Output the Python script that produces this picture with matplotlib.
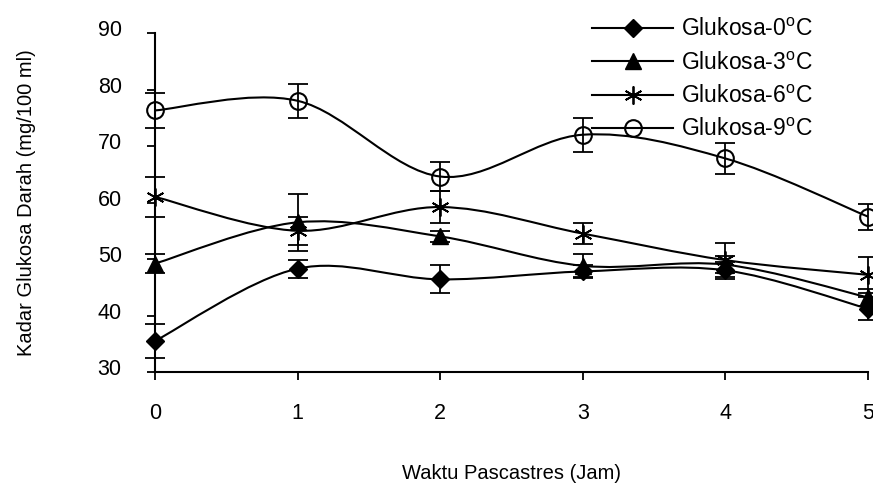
import numpy as np
import matplotlib
matplotlib.use("Agg")
import matplotlib.pyplot as plt
from matplotlib.path import Path
from matplotlib.patches import PathPatch
from matplotlib.lines import Line2D
from matplotlib.transforms import ScaledTranslation

plt.rcParams['font.family'] = ['Liberation Sans', 'DejaVu Sans']
plt.rcParams['mathtext.fontset'] = 'custom'
plt.rcParams['mathtext.rm'] = 'Liberation Sans'

# jam pascastres
jam = [0, 1, 2, 3, 4, 5]

# kadar glukosa darah (mg/100 ml) dan simpangan
glu_0 = [35.5, 48.3, 46.4, 47.8, 48.0, 41.2]
err_0 = [3.0, 1.6, 2.5, 1.2, 1.5, 2.0]
glu_3 = [49.2, 56.5, 54.0, 48.8, 49.0, 43.2]
err_3 = [1.7, 5.0, 1.0, 2.0, 1.5, 1.5]
glu_6 = [61.0, 55.0, 59.2, 54.5, 49.8, 47.2]
err_6 = [3.6, 2.5, 2.9, 1.9, 3.0, 3.2]
glu_9 = [76.3, 78.0, 64.6, 72.0, 67.8, 57.5]
err_9 = [3.1, 3.0, 2.5, 3.0, 2.8, 2.3]

labels = ["Glukosa-0$^{\\mathrm{o}}$C", "Glukosa-3$^{\\mathrm{o}}$C",
          "Glukosa-6$^{\\mathrm{o}}$C", "Glukosa-9$^{\\mathrm{o}}$C"]
y_ticks = [30, 40, 50, 60, 70, 80, 90]


def smooth_path(xs, ys):
    # excel-style smoothed line: bezier segments through every point
    p = np.column_stack([xs, ys]).astype(float)
    pp = np.vstack([p[:1], p, p[-1:]])
    verts = [p[0]]
    codes = [Path.MOVETO]
    for i in range(len(p) - 1):
        c1 = pp[i + 1] + (pp[i + 2] - pp[i]) / 6.0
        c2 = pp[i + 2] - (pp[i + 3] - pp[i + 1]) / 6.0
        verts += [c1, c2, p[i + 1]]
        codes += [Path.CURVE4] * 3
    return Path(verts, codes)


fig = plt.figure(figsize=(8.73, 4.87), dpi=100)
ax = fig.add_axes([0.1776, 0.2361, 0.8167, 0.6961])

series = [
    (glu_0, err_0, dict(marker='D', ms=9, mfc='black', mec='black')),
    (glu_3, err_3, dict(marker='^', ms=11, mfc='black', mec='black')),
    (glu_6, err_6, dict(marker=(6, 2, 0), ms=13, mfc='black', mec='black', mew=1.3)),
    (glu_9, err_9, dict(marker='o', ms=12, mfc='none', mec='black', mew=1.5)),
]

handles = []
for (vals, errs, mk), lab in zip(series, labels):
    ax.add_patch(PathPatch(smooth_path(jam, vals), fc='none', ec='black', lw=1.5,
                           zorder=2))
    ax.errorbar(jam, vals, yerr=errs, fmt='none', ecolor='black', elinewidth=1.3,
                capsize=7, capthick=1.3, zorder=3, clip_on=False)
    ax.plot(jam, vals, linestyle='none', zorder=4, clip_on=False, **mk)
    handles.append(Line2D([], [], color='black', lw=1.5, **mk))

ax.set_xlim(0, 5)
ax.set_ylim(30, 90)
ax.set_yticks(y_ticks)
ax.set_xticks(jam)
ax.spines['top'].set_visible(False)
ax.spines['right'].set_visible(False)
ax.spines['left'].set_linewidth(1.5)
ax.spines['bottom'].set_linewidth(1.5)
ax.tick_params(axis='y', direction='out', length=6, width=1.3, pad=18, labelsize=15.5)
ax.tick_params(axis='x', direction='out', length=6, width=1.3, pad=16, labelsize=15.5)

# scanned original has the y labels sitting a little above their ticks
for t in ax.get_yticklabels():
    t.set_transform(t.get_transform() + ScaledTranslation(0, 0.05, fig.dpi_scale_trans))

ax.set_ylabel("Kadar Glukosa Darah (mg/100 ml)", fontsize=14.5, labelpad=44)
ax.set_xlabel("Waktu Pascastres (Jam)", fontsize=14.5, labelpad=29)

fig.legend(handles, labels, loc='upper left', bbox_to_anchor=(0.655, 1.005),
           frameon=False, fontsize=16.5, handlelength=3.5, handletextpad=0.35,
           labelspacing=0.45)

fig.savefig("out.png", dpi=100)
